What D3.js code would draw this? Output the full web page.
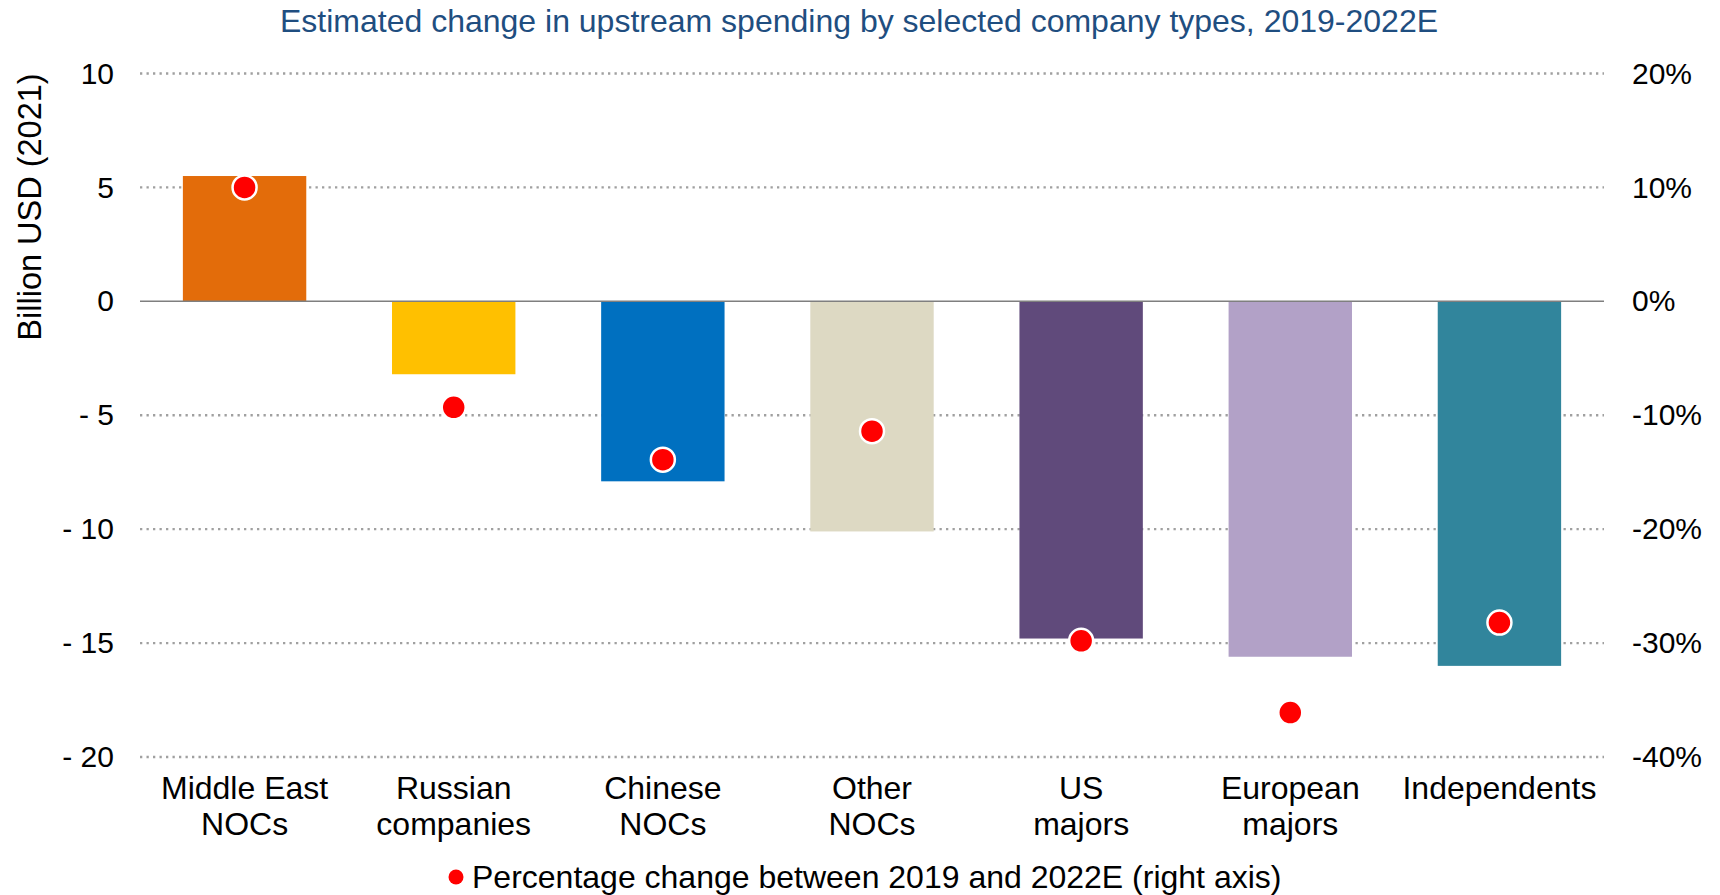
<!DOCTYPE html>
<html>
<head>
<meta charset="utf-8">
<script src="https://cdn.jsdelivr.net/npm/d3@7"></script>
<style>
  html, body { margin: 0; padding: 0; background: #fff; overflow: hidden; }
  svg { display: block; }
  text { font-family: "Liberation Sans", Arial, sans-serif; fill: #000; }
</style>
</head>
<body>
<div class="chart"></div>
<script>
// Chart data
const categories = [
  ['Middle East', 'NOCs'],
  ['Russian', 'companies'],
  ['Chinese', 'NOCs'],
  ['Other', 'NOCs'],
  ['US', 'majors'],
  ['European', 'majors'],
  ['Independents']
];
const spendChange = [5.5, -3.2, -7.9, -10.1, -14.8, -15.6, -16.0];
const pctChange = [0.10, -0.093, -0.139, -0.114, -0.298, -0.361, -0.282];
const barColors = ['#e36c0a', '#ffc000', '#0070c0', '#ddd9c3', '#604a7b', '#b2a1c7', '#31859c'];
const leftTicks = [10, 5, 0, -5, -10, -15, -20];
const rightTicks = [0.2, 0.1, 0, -0.1, -0.2, -0.3, -0.4];

const title = 'Estimated change in upstream spending by selected company types, 2019-2022E';
const yLabel = 'Billion USD (2021)';
const legendLabel = 'Percentage change between 2019 and 2022E (right axis)';

// D3 margin convention
const margin = { top: 73.5, right: 116, bottom: 138, left: 140 };
const outerWidth = 1720;
const outerHeight = 895;
const innerWidth = outerWidth - margin.left - margin.right;
const innerHeight = outerHeight - margin.top - margin.bottom;

const svg = d3.select('.chart')
  .append('svg')
    .attr('width', outerWidth)
    .attr('height', outerHeight);

const chartG = svg.append('g')
  .attr('transform', `translate(${margin.left},${margin.top})`);

const x = d3.scaleBand()
  .domain(d3.range(categories.length))
  .range([0, innerWidth])
  .paddingInner(0.41)
  .paddingOuter(0.205);

const y = d3.scaleLinear().domain([-20, 10]).range([innerHeight, 0]);
const yRight = d3.scaleLinear().domain([-0.4, 0.2]).range([innerHeight, 0]);

// dotted gridlines
chartG.selectAll('.grid')
  .data(leftTicks.filter(d => d !== 0))
  .enter().append('line')
    .attr('class', 'grid')
    .attr('x1', 0)
    .attr('x2', innerWidth)
    .attr('y1', d => y(d))
    .attr('y2', d => y(d))
    .attr('stroke', '#a0a0a0')
    .attr('stroke-width', 2.3)
    .attr('stroke-dasharray', '2.3,4.2');

// bars
chartG.selectAll('.bar')
  .data(spendChange)
  .enter().append('rect')
    .attr('class', 'bar')
    .attr('x', (d, i) => x(i))
    .attr('width', x.bandwidth())
    .attr('y', d => y(Math.max(0, d)))
    .attr('height', d => Math.abs(y(d) - y(0)))
    .attr('fill', (d, i) => barColors[i]);

// zero line
chartG.append('line')
  .attr('x1', 0)
  .attr('x2', innerWidth)
  .attr('y1', y(0))
  .attr('y2', y(0))
  .attr('stroke', '#7f7f7f')
  .attr('stroke-width', 1.5);

// percentage dots
chartG.selectAll('.dot')
  .data(pctChange)
  .enter().append('circle')
    .attr('class', 'dot')
    .attr('cx', (d, i) => x(i) + x.bandwidth() / 2)
    .attr('cy', d => yRight(d))
    .attr('r', 12)
    .attr('fill', '#ff0000')
    .attr('stroke', '#fff')
    .attr('stroke-width', 2.5);

// left axis
const leftAxis = d3.axisLeft(y)
  .tickValues(leftTicks)
  .tickSize(0)
  .tickPadding(26)
  .tickFormat(d => d < 0 ? '- ' + Math.abs(d) : d);
const leftG = chartG.append('g').call(leftAxis);
leftG.select('.domain').remove();
leftG.selectAll('text')
  .attr('font-size', 30)
  .attr('font-family', '"Liberation Sans", Arial, sans-serif')
  .attr('fill', '#000');

// right axis (plain hyphen for negatives, like the source)
const rightAxis = d3.axisRight(yRight)
  .tickValues(rightTicks)
  .tickSize(0)
  .tickPadding(28)
  .tickFormat(d => Math.round(d * 100) + '%');
const rightG = chartG.append('g')
  .attr('transform', `translate(${innerWidth},0)`)
  .call(rightAxis);
rightG.select('.domain').remove();
rightG.selectAll('text')
  .attr('font-size', 30)
  .attr('font-family', '"Liberation Sans", Arial, sans-serif')
  .attr('fill', '#000');

// category labels
const catG = chartG.selectAll('.cat')
  .data(categories)
  .enter().append('text')
    .attr('class', 'cat')
    .attr('text-anchor', 'middle')
    .attr('font-size', 32)
    .attr('x', (d, i) => x(i) + x.bandwidth() / 2)
    .attr('y', innerHeight + 42);
catG.selectAll('tspan')
  .data(d => d)
  .enter().append('tspan')
    .attr('x', function () { return d3.select(this.parentNode).attr('x'); })
    .attr('dy', (d, i) => i === 0 ? 0 : 36)
    .text(d => d);

// y axis title
svg.append('text')
  .attr('transform', 'translate(41,207) rotate(-90)')
  .attr('text-anchor', 'middle')
  .attr('font-size', 32.5)
  .text(yLabel);

// chart title
svg.append('text')
  .attr('x', 859)
  .attr('y', 32)
  .attr('text-anchor', 'middle')
  .attr('font-size', 32)
  .style('fill', '#1f4e80')
  .text(title);

// legend
const legendG = svg.append('g').attr('transform', 'translate(456,877)');
legendG.append('circle')
  .attr('r', 7.5)
  .attr('fill', '#ff0000');
legendG.append('text')
  .attr('x', 16)
  .attr('dy', '0.35em')
  .attr('font-size', 32)
  .text(legendLabel);
</script>
</body>
</html>
